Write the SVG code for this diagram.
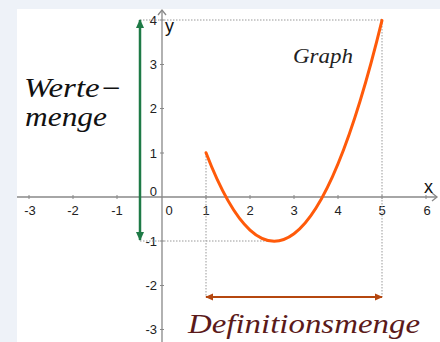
<svg xmlns="http://www.w3.org/2000/svg" width="440" height="342" viewBox="0 0 440 342">
<defs>
<style>
.tick{font-family:"Liberation Sans",Arial,sans-serif;font-size:13px;fill:#222}
.axis{stroke:#888;stroke-width:1.3;fill:none}
.dot{stroke:#999;stroke-width:1;stroke-dasharray:1.5 1.5;fill:none}
.math{font-family:"Liberation Serif","Times New Roman",serif;font-style:italic}
.ax{font-family:"Liberation Sans",Arial,sans-serif;font-size:18px;fill:#111}
</style>
<marker id="gh" viewBox="0 0 10 10" refX="8" refY="5" markerWidth="4" markerHeight="4" orient="auto-start-reverse"><path d="M0,1 L9,5 L0,9 Z" fill="#1e7a46"/></marker>
<marker id="bh" viewBox="0 0 10 10" refX="8" refY="5" markerWidth="4" markerHeight="4" orient="auto-start-reverse"><path d="M0,1 L9,5 L0,9 Z" fill="#b5470f"/></marker>
</defs>
<rect width="440" height="342" fill="#eef2f8"/>
<rect x="17" y="9" width="423" height="333" fill="#fff"/>
<g id="axes">
<line class="axis" x1="17" y1="197" x2="437" y2="197"/>
<path class="axis" d="M432,193 L437,197 L432,201"/>
<line class="axis" x1="162" y1="342" x2="162" y2="10"/>
<path class="axis" d="M158,15 L162,10 L166,15"/>
<g stroke="#888" stroke-width="1">
<line x1="29" y1="195" x2="29" y2="199"/><line x1="73" y1="195" x2="73" y2="199"/><line x1="117" y1="195" x2="117" y2="199"/>
<line x1="206" y1="195" x2="206" y2="199"/><line x1="250" y1="195" x2="250" y2="199"/><line x1="294" y1="195" x2="294" y2="199"/>
<line x1="338" y1="195" x2="338" y2="199"/><line x1="382" y1="195" x2="382" y2="199"/><line x1="426" y1="195" x2="426" y2="199"/>
<line x1="160" y1="20" x2="164" y2="20"/><line x1="160" y1="64.5" x2="164" y2="64.5"/><line x1="160" y1="108.5" x2="164" y2="108.5"/><line x1="160" y1="153" x2="164" y2="153"/>
<line x1="160" y1="241" x2="164" y2="241"/><line x1="160" y1="285.5" x2="164" y2="285.5"/><line x1="160" y1="329.5" x2="164" y2="329.5"/>
</g>
<g class="tick" text-anchor="middle">
<text x="30" y="215">-3</text><text x="73" y="215">-2</text><text x="117" y="215">-1</text>
<text x="169" y="215">0</text><text x="206" y="215">1</text><text x="250" y="215">2</text><text x="294" y="215">3</text>
<text x="338" y="215">4</text><text x="382" y="215">5</text><text x="427" y="215">6</text>
</g>
<g class="tick" text-anchor="end">
<text x="157" y="25">4</text><text x="157" y="69">3</text><text x="157" y="113">2</text><text x="157" y="158">1</text>
<text x="157" y="196">0</text><text x="157" y="246">-1</text><text x="157" y="290">-2</text><text x="157" y="334">-3</text>
</g>
<text class="ax" x="165" y="32">y</text>
<text class="ax" x="424" y="193">x</text>
</g>
<g id="guides">
<line class="dot" x1="140" y1="20" x2="382" y2="20"/>
<line class="dot" x1="140" y1="241" x2="273" y2="241"/>
<line class="dot" x1="206" y1="153" x2="206" y2="297"/>
<line class="dot" x1="382" y1="20" x2="382" y2="297"/>
</g>
<g id="graph">
<path d="M206,152.75 Q294,381 382,20.4" fill="none" stroke="#ff5a0a" stroke-width="3" stroke-linecap="round"/>
</g>
<g id="connectors">
<line x1="140" y1="240" x2="140" y2="20" stroke="#1e7a46" stroke-width="2.5" marker-start="url(#gh)" marker-end="url(#gh)"/>
<line x1="206" y1="297" x2="382" y2="297" stroke="#b5470f" stroke-width="2.2" marker-start="url(#bh)" marker-end="url(#bh)"/>
</g>
<g id="labels">
<text class="math" x="24" y="97" font-size="27" fill="#111" textLength="98" lengthAdjust="spacingAndGlyphs">Werte−</text>
<text class="math" x="25" y="126" font-size="27" fill="#111" textLength="82" lengthAdjust="spacingAndGlyphs">menge</text>
<text class="math" x="293" y="63" font-size="20" fill="#222" textLength="60" lengthAdjust="spacingAndGlyphs">Graph</text>
<text class="math" x="188" y="333" font-size="27" fill="#5b1a1a" textLength="232" lengthAdjust="spacingAndGlyphs">Definitionsmenge</text>
</g>
</svg>
